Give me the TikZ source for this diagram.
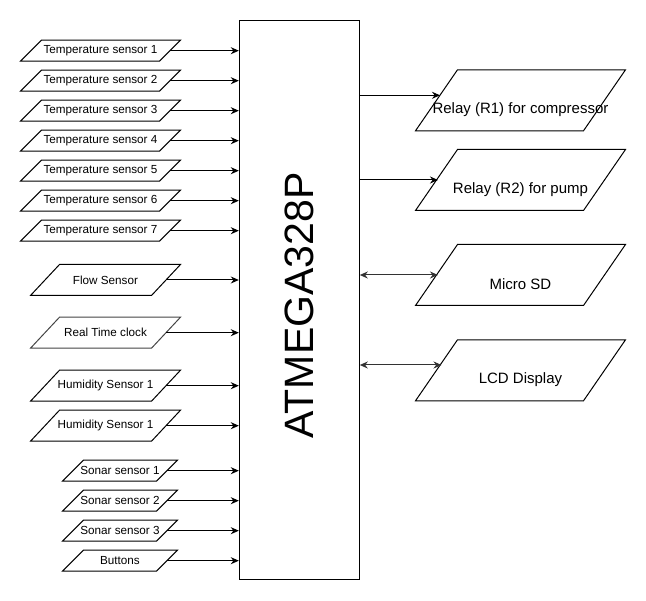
\documentclass[tikz,border=0pt]{standalone}
\usepackage{fontspec}
\setmainfont{Liberation Sans}
\usetikzlibrary{arrows.meta,calc}
\definecolor{rtcgray}{HTML}{444444}
\definecolor{linkgray}{HTML}{333333}
\newcommand\pgshape[3][black]{% colour, node name, half slant
  \draw[#1] ([xshift=-#3]#2.south west) -- ([xshift=-#3]#2.south east) --
    ([xshift=#3]#2.north east) -- ([xshift=#3]#2.north west) -- cycle;}
\begin{document}
\begin{tikzpicture}[x=1pt,y=-1pt,line width=1pt,
  ts/.style={minimum width=138pt,minimum height=20pt,inner sep=0pt,font=\fontsize{11.7}{13}\selectfont},
  fs/.style={minimum width=120pt,minimum height=30pt,inner sep=0pt,font=\fontsize{11.7}{13}\selectfont},
  ss/.style={minimum width=93pt,minimum height=20pt,inner sep=0pt,font=\fontsize{11.7}{13}\selectfont},
  rb/.style={minimum width=167pt,minimum height=60pt,inner sep=0pt},
  rt/.style={font=\fontsize{15}{17}\selectfont,inner sep=0pt,yshift=-9.5pt},
  arr/.style={-{Stealth[length=8pt,width=7pt]}},
  darr/.style={{Stealth[length=8pt,width=7pt]}-{Stealth[length=8pt,width=7pt]},draw=linkgray}]
\useasboundingbox (0,0) rectangle (646,601);

% main controller
\node[draw,minimum width=120pt,minimum height=559.3pt,inner sep=0pt] (mcu) at (299.3,300.35) {};
\node[rotate=90,font=\fontsize{41}{45}\selectfont,inner sep=0pt] (mcutxt) at (299.3,305.5) {ATMEGA328P};

% left inputs
\node[ts] (t1) at (100.5,50.7) {Temperature sensor 1};
\node[ts] (t2) at (100.5,80.7) {Temperature sensor 2};
\node[ts] (t3) at (100.5,110.7) {Temperature sensor 3};
\node[ts] (t4) at (100.5,140.7) {Temperature sensor 4};
\node[ts] (t5) at (100.5,170.7) {Temperature sensor 5};
\node[ts] (t6) at (100.5,200.7) {Temperature sensor 6};
\node[ts] (t7) at (100.5,230.7) {Temperature sensor 7};
\foreach \n in {t1,t2,t3,t4,t5,t6,t7} {\pgshape{\n}{10.5pt}}

\node[fs] (flow) at (105.5,280) {Flow Sensor};
\node[fs] (rtc) at (105.5,332.7) {Real Time clock};
\node[fs] (hum1) at (105.5,385.7) {Humidity Sensor 1};
\node[fs] (hum2) at (105.5,425.7) {Humidity Sensor 1};
\pgshape{flow}{14.5pt}
\pgshape[rtcgray]{rtc}{14.5pt}
\pgshape{hum1}{14.5pt}
\pgshape{hum2}{14.5pt}

\node[ss] (son1) at (120,470.7) {Sonar sensor 1};
\node[ss] (son2) at (120,500.7) {Sonar sensor 2};
\node[ss] (son3) at (120,530.7) {Sonar sensor 3};
\node[ss] (btn) at (120,560.7) {Buttons};
\foreach \n in {son1,son2,son3,btn} {\pgshape{\n}{10.5pt}}

\foreach \n in {t1,t2,t3,t4,t5,t6,t7,flow,rtc,hum1,hum2,son1,son2,son3,btn}
  {\draw[arr] (\n.east) -- (\n.east -| mcu.west);}

% right outputs
\node[rb,label={[rt]center:Relay (R1) for compressor}] (r1) at (520.5,100.3) {};
\node[rb,label={[rt]center:Relay (R2) for pump}] (r2) at (520.5,180) {};
\node[rb,label={[rt]center:Micro SD}] (sd) at (520.5,275) {};
\node[rb,label={[rt]center:LCD Display}] (lcd) at (520.5,370.3) {};
\foreach \n in {r1,r2,sd,lcd} {\pgshape{\n}{21pt}}

\draw[arr] ($(r1.west -| mcu.east)+(0,-5)$) -- ($(r1.west)+(3.5,-5)$);
\draw[arr] (r2.west -| mcu.east) -- ($(r2.west)+(1.5,0)$);
\draw[darr] (sd.west -| mcu.east) -- ($(sd.west)+(1.5,0)$);
\draw[darr] ($(lcd.west -| mcu.east)+(0,-5.3)$) -- ($(lcd.west)+(5,-5.3)$);
\end{tikzpicture}
\end{document}
